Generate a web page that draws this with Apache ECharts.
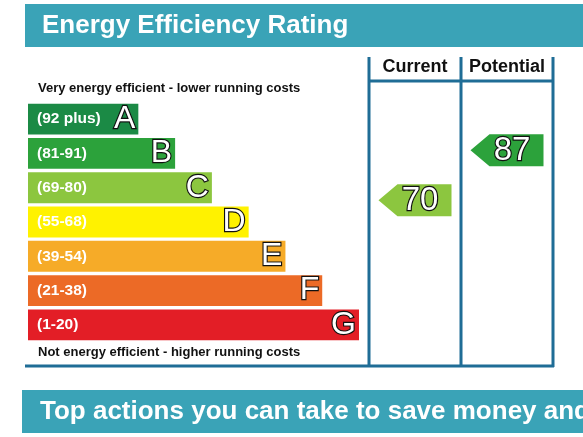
<!DOCTYPE html>
<html>
<head>
<meta charset="utf-8">
<script src="https://cdn.jsdelivr.net/npm/echarts@6/dist/echarts.min.js"></script>
<style>
  html, body { margin: 0; padding: 0; background: #fff; }
  #chart { width: 583px; height: 437px; }
</style>
</head>
<body>
<div id="chart"></div>
<script>
// rating bands, top (best) to bottom
const bandLetters = ['A', 'B', 'C', 'D', 'E', 'F', 'G'];
const bandRanges = ['(92 plus)', '(81-91)', '(69-80)', '(55-68)', '(39-54)', '(21-38)', '(1-20)'];
const bandLengths = [3, 4, 5, 6, 7, 8, 9];
const bandColors = ['#1b8a45', '#2ca23b', '#8cc63f', '#fff200', '#f6ab28', '#ec6a26', '#e31e26'];

// current / potential ratings
const columns = ['Current', 'Potential'];
const ratings = [70, 87];
const ratingColors = ['#8cc63f', '#2ca23b'];

const FONT = 'Liberation Sans, Arial, sans-serif';
const LINE = '#1f6d96';
const BAND = '#3aa3b7';

const chart = echarts.init(document.getElementById('chart'));

const arrowPath = 'path://M0,16 L19,0 L73,0 L73,32 L19,32 Z';

const option = {
    animation: false,
    grid: [
        { left: 28, top: 102, width: 331, height: 240 },
        { left: 369, top: 112, width: 184, height: 294 }
    ],
    xAxis: [
        { gridIndex: 0, type: 'value', min: 0, max: 9, show: false },
        {
            gridIndex: 1, type: 'category', data: columns, position: 'top',
            axisLine: { show: false }, axisTick: { show: false },
            axisLabel: { interval: 0, hideOverlap: false, margin: 36, color: '#111',
                fontFamily: FONT, fontWeight: 'bold', fontSize: 18 }
        }
    ],
    yAxis: [
        { gridIndex: 0, type: 'category', data: bandLetters, inverse: true, show: false },
        { gridIndex: 1, type: 'value', min: 0, max: 100, show: false }
    ],
    graphic: [
        // header band
        { type: 'rect', shape: { x: 25, y: 4, width: 580, height: 43 }, style: { fill: BAND } },
        { type: 'text', x: 42, y: 26, style: { text: 'Energy Efficiency Rating', fill: '#fff',
            font: 'bold 26px ' + FONT, textVerticalAlign: 'middle' } },
        // side notes
        { type: 'text', x: 38, y: 88, style: { text: 'Very energy efficient - lower running costs', fill: '#111',
            font: 'bold 13px ' + FONT, textVerticalAlign: 'middle' } },
        { type: 'text', x: 38, y: 352, style: { text: 'Not energy efficient - higher running costs', fill: '#111',
            font: 'bold 13px ' + FONT, textVerticalAlign: 'middle' } },
        // frame
        { type: 'line', shape: { x1: 369, y1: 57, x2: 369, y2: 367 }, style: { stroke: LINE, lineWidth: 3 } },
        { type: 'line', shape: { x1: 461, y1: 57, x2: 461, y2: 367 }, style: { stroke: LINE, lineWidth: 3 } },
        { type: 'line', shape: { x1: 553, y1: 57, x2: 553, y2: 367 }, style: { stroke: LINE, lineWidth: 3 } },
        { type: 'line', shape: { x1: 369, y1: 81, x2: 553, y2: 81 }, style: { stroke: LINE, lineWidth: 3 } },
        { type: 'line', shape: { x1: 25, y1: 366, x2: 554, y2: 366 }, style: { stroke: LINE, lineWidth: 3 } },
        // bottom band
        { type: 'rect', shape: { x: 22, y: 390, width: 580, height: 43 }, style: { fill: BAND } },
        { type: 'text', x: 40, y: 412, style: { text: 'Top actions you can take to save money and make your home more efficient',
            fill: '#fff', font: 'bold 26px ' + FONT, textVerticalAlign: 'middle' } }
    ],
    series: [
        {
            type: 'bar', xAxisIndex: 0, yAxisIndex: 0,
            barCategoryGap: '10%',
            data: bandLengths.map((v, i) => ({ value: v, itemStyle: { color: bandColors[i] } })),
            label: {
                show: true, position: 'insideLeft', distance: 9,
                formatter: p => bandRanges[p.dataIndex],
                color: '#fff', fontFamily: FONT, fontWeight: 'bold', fontSize: 15.5
            }
        },
        {
            type: 'bar', xAxisIndex: 0, yAxisIndex: 0,
            barGap: '-100%', barCategoryGap: '10%',
            data: bandLengths,
            itemStyle: { color: 'transparent' },
            label: {
                show: true, position: 'insideRight', distance: 3,
                formatter: p => bandLetters[p.dataIndex],
                color: '#fff', textBorderColor: '#111', textBorderWidth: 2.3,
                fontFamily: FONT, fontSize: 32
            }
        },
        {
            type: 'scatter', xAxisIndex: 1, yAxisIndex: 1,
            symbol: arrowPath, symbolSize: [73, 32],
            data: ratings.map((v, i) => ({ value: [columns[i], v], itemStyle: { color: ratingColors[i], opacity: 1 } })),
            label: {
                show: true, position: 'inside', offset: [5, 1],
                formatter: p => p.value[1],
                color: '#fff', textBorderColor: '#111', textBorderWidth: 2.3,
                fontFamily: FONT, fontSize: 33
            }
        }
    ]
};

chart.setOption(option);
</script>
</body>
</html>
